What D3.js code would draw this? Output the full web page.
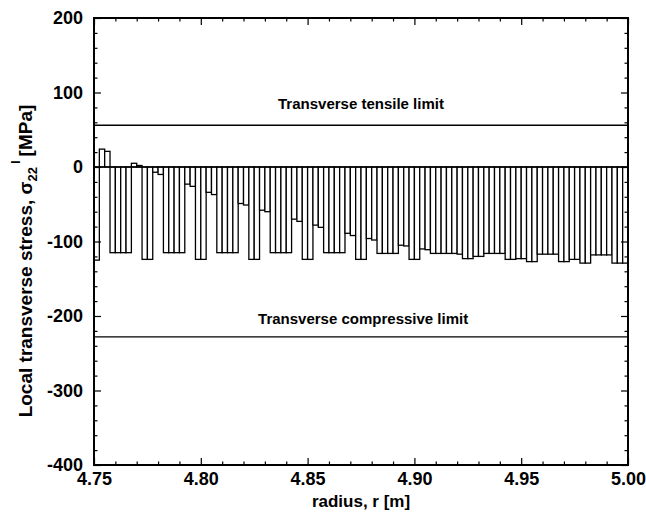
<!DOCTYPE html>
<html>
<head>
<meta charset="utf-8">
<script src="https://cdn.jsdelivr.net/npm/d3@7"></script>
<style>
  body { margin: 0; background: #fff; }
  svg text { font-family: "Liberation Sans", Arial, Helvetica, sans-serif; font-weight: bold; fill: #000; }
</style>
</head>
<body>
<div id="chart"></div>
<script>
// local transverse stress per layer, inner radius to outer radius [MPa]
var stress = [
  -125,
  24, 21, -115, -115, -115, -115, 5, 2, -124, -124,
  -7, -10, -115, -115, -115, -115, -23, -26, -124, -124,
  -34, -37, -115, -115, -115, -115, -49, -51, -124, -124,
  -58, -60, -115, -115, -115, -115, -70, -73, -124, -124,
  -78, -81, -115, -115, -115, -115, -89, -92, -124, -124,
  -96, -98, -116, -116, -116, -116, -105, -106, -124, -124,
  -110, -111, -116, -116, -116, -116, -116, -117, -123, -123,
  -120, -120, -116, -116, -116, -116, -124, -124, -123, -123,
  -127, -127, -117, -117, -117, -117, -127, -127, -124, -124,
  -129, -129, -118, -118, -118, -118, -129, -129, -129
];
var rInner = 4.75, rOuter = 5.00;
var xTicks = [4.75, 4.80, 4.85, 4.90, 4.95, 5.00];
var xMinor = [4.76, 4.77, 4.78, 4.79, 4.81, 4.82, 4.83, 4.84, 4.86, 4.87, 4.88, 4.89,
              4.91, 4.92, 4.93, 4.94, 4.96, 4.97, 4.98, 4.99];
var yTicks = [-400, -300, -200, -100, 0, 100, 200];
var yMinor = d3.range(-400, 201, 20).filter(function(v) { return v % 100 !== 0; });
var tensileLimit = 56, compressiveLimit = -228;

// set the dimensions and margins of the graph
var margin = {top: 18, right: 18, bottom: 47, left: 94},
  width = 646 - margin.left - margin.right,
  height = 512 - margin.top - margin.bottom;

var svg = d3.select("#chart")
.append("svg")
  .attr("width", width + margin.left + margin.right)
  .attr("height", height + margin.top + margin.bottom)
.append("g")
  .attr("transform", "translate(" + margin.left + "," + margin.top + ")");

var x = d3.scaleLinear().domain([rInner, rOuter]).range([0, width]);
var y = d3.scaleLinear().domain([-400, 200]).range([height, 0]);

var step = (rOuter - rInner) / stress.length;

// bars
svg.selectAll(".bar")
  .data(stress)
  .enter()
  .append("rect")
    .attr("class", "bar")
    .attr("x", function(d, i) { return x(rInner + i * step); })
    .attr("width", function(d, i) { return x(rInner + (i + 1) * step) - x(rInner + i * step); })
    .attr("y", function(d) { return y(Math.max(0, d)); })
    .attr("height", function(d) { return Math.abs(y(d) - y(0)); })
    .style("fill", "#fff")
    .style("stroke", "#000")
    .style("stroke-width", 1.3);

// zero line and limit lines
[0, tensileLimit, compressiveLimit].forEach(function(v) {
  svg.append("line")
    .attr("x1", 0).attr("x2", width)
    .attr("y1", y(v)).attr("y2", y(v))
    .style("stroke", "#000")
    .style("stroke-width", 1.4);
});

svg.append("text")
  .attr("x", x(4.875))
  .attr("y", y(tensileLimit) - 16)
  .attr("text-anchor", "middle")
  .style("font-size", "15px")
  .text("Transverse tensile limit");

svg.append("text")
  .attr("x", x(4.876))
  .attr("y", y(compressiveLimit) - 13)
  .attr("text-anchor", "middle")
  .style("font-size", "15px")
  .text("Transverse compressive limit");

// axes: ticks point inward on all four sides
function styleAxis(g) {
  g.select(".domain").remove();
  g.selectAll("line").style("stroke", "#000").style("stroke-width", 1.2);
  g.selectAll("text").style("font-size", "18px").style("font-family", null);
}

svg.append("g")
  .attr("transform", "translate(0," + height + ")")
  .call(d3.axisBottom(x).tickValues(xTicks).tickSize(-7).tickPadding(7).tickFormat(d3.format(".2f")))
  .call(styleAxis);
svg.append("g")
  .attr("transform", "translate(0," + height + ")")
  .call(d3.axisBottom(x).tickValues(xMinor).tickSize(-3.5).tickFormat(""))
  .call(styleAxis);
svg.append("g")
  .call(d3.axisTop(x).tickValues(xTicks).tickSize(-7).tickFormat(""))
  .call(styleAxis);
svg.append("g")
  .call(d3.axisTop(x).tickValues(xMinor).tickSize(-3.5).tickFormat(""))
  .call(styleAxis);

svg.append("g")
  .call(d3.axisLeft(y).tickValues(yTicks).tickSize(-7).tickPadding(11).tickFormat(function(d) { return String(d); }))
  .call(styleAxis);
svg.append("g")
  .call(d3.axisLeft(y).tickValues(yMinor).tickSize(-3.5).tickFormat(""))
  .call(styleAxis);
svg.append("g")
  .attr("transform", "translate(" + width + ",0)")
  .call(d3.axisRight(y).tickValues(yTicks).tickSize(-7).tickFormat(""))
  .call(styleAxis);
svg.append("g")
  .attr("transform", "translate(" + width + ",0)")
  .call(d3.axisRight(y).tickValues(yMinor).tickSize(-3.5).tickFormat(""))
  .call(styleAxis);

// frame
svg.append("rect")
  .attr("x", 0).attr("y", 0)
  .attr("width", width).attr("height", height)
  .style("fill", "none")
  .style("stroke", "#000")
  .style("stroke-width", 2);

// axis titles
svg.append("text")
  .attr("x", width / 2)
  .attr("y", height + 42)
  .attr("text-anchor", "middle")
  .style("font-size", "17px")
  .text("radius, r [m]");

var ylab = svg.append("text")
  .attr("transform", "translate(" + (32 - margin.left) + "," + (261 - margin.top) + ") rotate(-90)")
  .attr("text-anchor", "middle")
  .style("font-size", "19px");
ylab.append("tspan").text("Local transverse stress, \u03c3");
ylab.append("tspan").attr("dy", 5).style("font-size", "13px").text("22");
ylab.append("tspan").attr("dy", -17).attr("dx", 3).style("font-size", "13px").text("l");
ylab.append("tspan").attr("dy", 12).attr("dx", 4).text("[MPa]");
</script>
</body>
</html>
